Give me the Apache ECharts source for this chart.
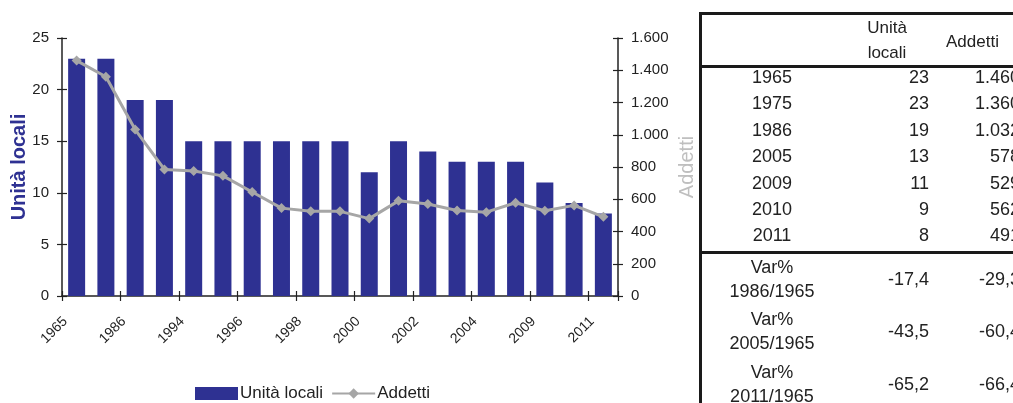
<!DOCTYPE html>
<html>
<head>
<meta charset="utf-8">
<script src="https://cdn.jsdelivr.net/npm/echarts@6/dist/echarts.min.js"></script>
<style>
  html, body { margin: 0; padding: 0; background: #fff; }
  #chart { width: 1013px; height: 403px; }
</style>
</head>
<body>
<div id="chart"></div>
<script>
// Categories and series
const years = ['1965','1975','1986','1993','1994','1995','1996','1997','1998','1999','2000','2001','2002','2003','2004','2005','2009','2010','2011'];
const unitaLocali = [23,23,19,19,15,15,15,15,15,15,12,15,14,13,13,13,11,9,8];
const addetti = [1460,1360,1032,785,775,745,645,545,525,525,480,590,570,530,520,578,529,562,491];

// Summary table
const tableHeader = ['Unità', 'locali', 'Addetti'];
const tableYears = ['1965','1975','1986','2005','2009','2010','2011'];
const tableUnita = [23,23,19,13,11,9,8];
const tableAddetti = [1460,1360,1032,578,529,562,491];
const varPeriods = ['1986/1965','2005/1965','2011/1965'];
const varUnita = ['-17,4','-43,5','-65,2'];
const varAddetti = ['-29,3','-60,4','-66,4'];

const FONT = '"Liberation Sans", Arial, sans-serif';
const NAVY = '#2E3192';
const GREY = '#A6A6A6';
const INK = '#222';

function thousands(n) {
  return String(n).replace(/\B(?=(\d{3})+(?!\d))/g, '.');
}

function txt(x, y, s, align, size) {
  return {
    type: 'text', x: x, y: y, silent: true,
    style: { text: s, fill: INK, font: (size || 18) + 'px ' + FONT, textAlign: align, textVerticalAlign: 'middle' }
  };
}
function bar(x, y, w, h) {
  return { type: 'rect', silent: true, shape: { x: x, y: y, width: w, height: h }, style: { fill: '#1a1a1a' } };
}

// Table drawn beside the chart
const table = [];
table.push(bar(699, 12, 320, 3));
table.push(bar(699, 12, 3, 400));
table.push(bar(699, 65, 320, 3));
table.push(bar(699, 251, 320, 3));
table.push(txt(887, 28, tableHeader[0], 'center', 17));
table.push(txt(887, 53, tableHeader[1], 'center', 17));
table.push(txt(946, 42, tableHeader[2], 'left', 17));
tableYears.forEach(function (y, i) {
  const cy = 78 + i * 26.4;
  table.push(txt(772, cy, y, 'center'));
  table.push(txt(929, cy, String(tableUnita[i]), 'right'));
  table.push(txt(1020, cy, thousands(tableAddetti[i]), 'right'));
});
varPeriods.forEach(function (p, i) {
  const top = 268 + i * 52.5;
  table.push(txt(772, top, 'Var%', 'center'));
  table.push(txt(772, top + 24, p, 'center'));
  table.push(txt(929, top + 12, varUnita[i], 'right'));
  table.push(txt(1020, top + 12, varAddetti[i], 'right'));
});

const axisLine = { show: true, lineStyle: { color: INK, width: 1.5 } };
const tickStyle = { color: INK, width: 1.2 };
const labelStyle = { color: INK, fontSize: 15, fontFamily: FONT };

const option = {
  animation: false,
  backgroundColor: '#fff',
  grid: { left: 62, right: 395, top: 38, bottom: 107, containLabel: false, outerBoundsMode: 'none' },
  legend: {
    left: 190, top: 380,
    itemWidth: 43, itemHeight: 13, itemGap: 8,
    textStyle: { color: INK, fontSize: 17, fontFamily: FONT, padding: [0, 0, 0, -3] },
    data: [
      { name: 'Unità locali', icon: 'rect' },
      { name: 'Addetti' }
    ]
  },
  xAxis: [
    {
      type: 'category', data: years, position: 'bottom',
      axisLine: axisLine,
      axisTick: { show: true, length: 5, lineStyle: tickStyle },
      axisLabel: { interval: 1, rotate: 45, margin: 12, padding: [0, 16, 0, 0], color: INK, fontSize: 14, fontFamily: FONT },
      splitLine: { show: false }
    },
    {
      type: 'category', data: years, position: 'bottom',
      axisLine: { show: false },
      axisTick: { show: true, inside: true, length: 5, lineStyle: tickStyle },
      axisLabel: { show: false },
      splitLine: { show: false }
    }
  ],
  yAxis: [
    {
      type: 'value', min: 0, max: 25, interval: 5, position: 'left',
      name: 'Unità locali', nameLocation: 'middle', nameGap: 33, nameRotate: 90, nameMoveOverlap: false,
      nameTextStyle: { color: NAVY, fontSize: 20, fontWeight: 'bold', fontFamily: FONT },
      axisLine: axisLine,
      axisTick: { show: true, length: 5, lineStyle: tickStyle },
      axisLabel: Object.assign({ margin: 13 }, labelStyle),
      splitLine: { show: false }
    },
    {
      type: 'value', min: 0, max: 1600, interval: 200, position: 'right',
      name: 'Addetti', nameLocation: 'middle', nameGap: 59, nameRotate: 90, nameMoveOverlap: false,
      nameTextStyle: { color: '#BFBFBF', fontSize: 20, fontFamily: FONT },
      axisLine: axisLine,
      axisTick: { show: true, length: 5, lineStyle: tickStyle },
      axisLabel: Object.assign({ margin: 13, formatter: function (v) { return thousands(v); } }, labelStyle),
      splitLine: { show: false }
    },
    {
      type: 'value', min: 0, max: 25, interval: 5, position: 'left',
      axisLine: { show: false },
      axisTick: { show: true, inside: true, length: 5, lineStyle: tickStyle },
      axisLabel: { show: false }, splitLine: { show: false }
    },
    {
      type: 'value', min: 0, max: 1600, interval: 200, position: 'right',
      axisLine: { show: false },
      axisTick: { show: true, inside: true, length: 5, lineStyle: tickStyle },
      axisLabel: { show: false }, splitLine: { show: false }
    }
  ],
  series: [
    {
      name: 'Unità locali', type: 'bar', data: unitaLocali,
      xAxisIndex: 0, yAxisIndex: 0, barWidth: 17,
      itemStyle: { color: NAVY }
    },
    {
      name: 'Addetti', type: 'line', data: addetti,
      xAxisIndex: 0, yAxisIndex: 1,
      symbol: 'diamond', symbolSize: 10,
      lineStyle: { color: GREY, width: 3 },
      itemStyle: { color: GREY }
    }
  ],
  graphic: table
};

const chart = echarts.init(document.getElementById('chart'), null, { renderer: 'canvas' });
chart.setOption(option);
</script>
</body>
</html>
